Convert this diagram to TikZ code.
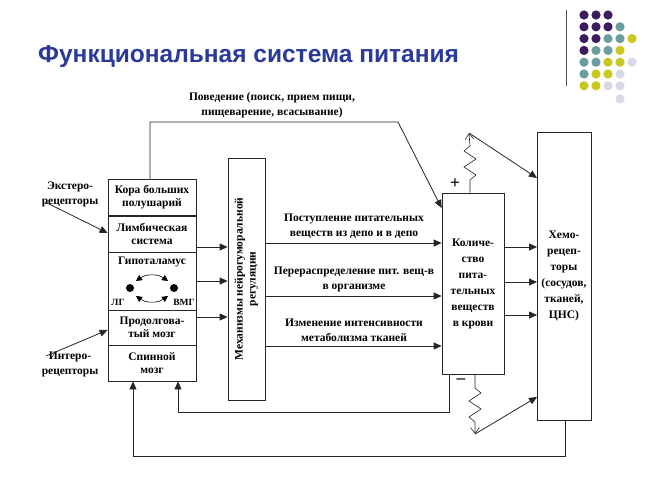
\documentclass[tikz,border=0pt]{standalone}
\usepackage{fontspec}
\setmainfont{Liberation Serif}
\newfontfamily\ttl{Liberation Sans}
\usetikzlibrary{arrows.meta}
\definecolor{ttlblue}{HTML}{2B3A9A}
\definecolor{dP}{HTML}{3D1C5E}
\definecolor{dT}{HTML}{6A9E9E}
\definecolor{dY}{HTML}{C8C81E}
\definecolor{dL}{HTML}{D8D8E8}
\begin{document}
\begin{tikzpicture}[x=1pt,y=-1pt,
  box/.style={draw=black!85,line width=0.8pt,inner sep=0pt,align=center,font=\fontsize{11.5}{13}\selectfont\bfseries},
  tall/.style={font=\fontsize{11.5}{16}\selectfont\bfseries},
  lbl/.style={align=center,inner sep=0pt,font=\fontsize{11.5}{15}\selectfont\bfseries},
  ar/.style={draw=black!85,line width=0.8pt,-{Triangle[length=8pt,width=7pt]}},
  barb/.style={draw=black!85,line width=0.6pt,-{Straight Barb[length=6pt,width=9pt]}}]
\useasboundingbox (0,0) rectangle (650,487);
\fill[white] (0,0) rectangle (650,487);
\node[anchor=west,text=ttlblue,font=\ttl\bfseries\fontsize{24.5}{28}\selectfont,inner sep=0pt] (title) at (38,57) {Функциональная система питания};
\draw[black!70,line width=0.8pt] (566,10) -- (566,86);
% dots
\foreach \r/\row in {0/{P,P,P},1/{P,P,P,T},2/{P,P,T,T,Y},3/{P,T,T,Y},4/{T,T,Y,Y,L},5/{T,Y,Y,L},6/{Y,Y,L,L}}{
  \foreach \c [count=\i from 0] in \row {\fill[d\c] (584+12*\i,15+11.8*\r) circle (4.6pt);}}
\fill[dL] (620,99) circle (4.6pt);
% left block
\node[box,minimum width=88,minimum height=36] (kora) at (152,197.5) {Кора больших\\полушарий};
\node[box,minimum width=88,minimum height=36] (limb) at (152,234) {Лимбическая\\система};
\node[box,minimum width=88,minimum height=58] (gip) at (152,281) {};
\node[lbl] (giptxt) at (152,262) {Гипоталамус};
\node[box,minimum width=88,minimum height=35] (prod) at (152,327.5) {Продолгова-\\тый мозг};
\node[box,minimum width=88,minimum height=36] (spin) at (152,363) {Спинной\\мозг};
\fill (130,288) circle (4pt) coordinate (lg);
\fill (174,288) circle (4pt) coordinate (vmg);
\node[lbl,font=\fontsize{9.5}{10}\selectfont\bfseries] (lgt) at (118,302) {ЛГ};
\node[lbl,font=\fontsize{9.5}{10}\selectfont\bfseries] (vmgt) at (184,302) {ВМГ};
\coordinate (a1) at (136,281); \coordinate (a2) at (168,281);
\coordinate (a3) at (136,296); \coordinate (a4) at (168,296);
\draw[line width=0.6pt,{Triangle[length=6pt,width=6pt]}-{Triangle[length=6pt,width=6pt]}] (a1) to[bend left=35] (a2);
\draw[line width=0.6pt,{Triangle[length=6pt,width=6pt]}-{Triangle[length=6pt,width=6pt]}] (a3) to[bend right=35] (a4);
% mech
\node[box,minimum width=37,minimum height=242] (mech) at (246.5,279) {};
\node[lbl,rotate=90,font=\fontsize{11.5}{13}\selectfont\bfseries] (mecht) at (246.5,279) {Механизмы нейрогуморальной\\регуляции};
% kol, chemo
\node[box,tall,minimum width=62,minimum height=181] (kol) at (473,283.5) {Количе-\\ство\\пита-\\тельных\\веществ\\в крови};
\node[box,tall,minimum width=54,minimum height=288] (chemo) at (564,276) {};
\node[lbl,font=\fontsize{11.5}{16}\selectfont\bfseries] (chemot) at (564,276) {Хемо-\\рецеп-\\торы\\(сосудов,\\тканей,\\ЦНС)};
% left inputs
\node[lbl] (ext) at (70,194) {Экстеро-\\рецепторы};
\node[lbl] (int) at (70,364) {Интеро-\\рецепторы};
\coordinate (e0) at (45,202); \coordinate (i0) at (46,356);
\draw[ar] (e0) -- (kora.south west |- 0,233);
\draw[ar] (i0) -- (prod.west |- 0,330);
% left -> mech
\foreach \y in {247,281,317} \draw[ar] (196,\y) -- (mech.west |- 0,\y);
% mech -> kol
\foreach \y in {243,296,346} \draw[ar] (mech.east |- 0,\y) -- (kol.west |- 0,\y);
\node[lbl] (t1) at (354,226) {Поступление питательных\\веществ из депо и в депо};
\node[lbl] (t2) at (354,279) {Перераспределение пит. вещ-в\\в организме};
\node[lbl] (t3) at (354,330) {Изменение интенсивности\\метаболизма тканей};
% kol -> chemo
\foreach \y in {247,282,315} \draw[ar] (kol.east |- 0,\y) -- (537,\y);
% behaviour
\node[lbl] (beh) at (272,105) {Поведение (поиск, прием пищи,\\пищеварение, всасывание)};
\coordinate (b1) at (150,122); \coordinate (b2) at (398,122);
\draw[ar] (kora.north -| 150,0) -- (b1) -- (b2) -- (kol.west |- 0,208);
% zigzags
\coordinate (zt) at (469,133); \coordinate (zb) at (475,434);
\draw[barb] (kol.north -| 470,0) -- (470,180) -- (476,175) -- (464,167) -- (476,159) -- (464,151) -- (470,146) -- (zt);
\draw[ar] (zt) -- (537,178);
\draw[barb] (kol.south -| 475,0) -- (475,388) -- (481,393) -- (469,401) -- (481,409) -- (469,417) -- (475,422) -- (zb);
\draw[ar] (zb) -- (537,397);
\node[font=\bfseries\LARGE,inner sep=0pt] (plus) at (455,184) {+};
\node[font=\bfseries\LARGE,inner sep=0pt] (minus) at (461,381) {--};
% feedback
\draw[ar] (kol.south -| 449,0) -- (449,412) -- (178,412) -- (spin.south -| 178,0);
\draw[ar] (chemo.south -| 565,0) -- (565,456) -- (133,456) -- (spin.south -| 133,0);
\end{tikzpicture}
\end{document}
